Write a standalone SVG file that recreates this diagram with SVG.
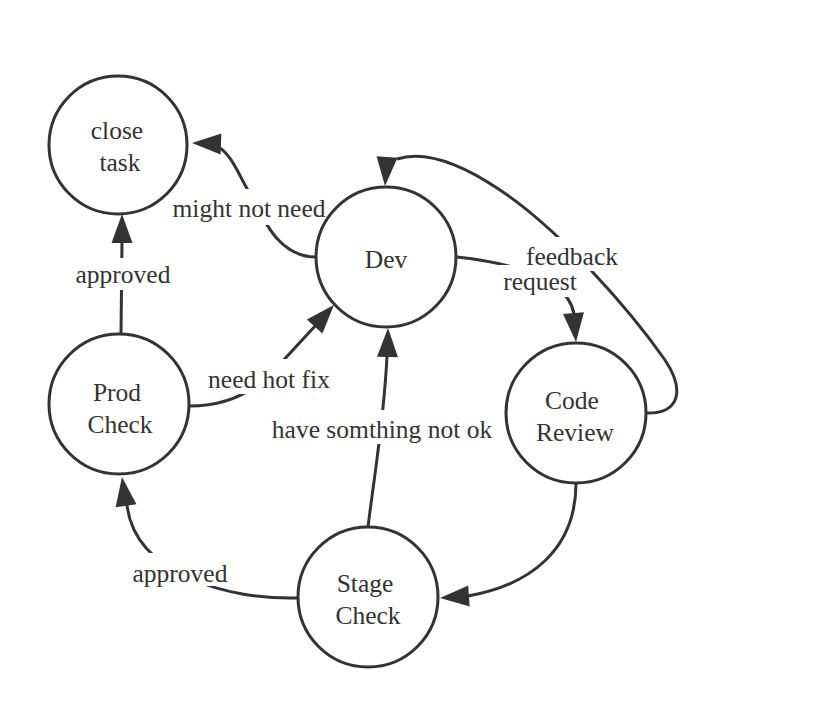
<svg xmlns="http://www.w3.org/2000/svg" xmlns:xlink="http://www.w3.org/1999/xlink" width="834" height="717" viewBox="0 0 834 717">
<style>
.node{fill:#fff;stroke:#333;stroke-width:3}
.edge{fill:none;stroke:#333;stroke-width:3}
.lbl{font-family:'Liberation Serif','DejaVu Serif',serif;font-size:25.5px;fill:#333;text-anchor:middle}
.bg{fill:#fff}
</style>
<defs>
<path id="ah" d="M0,0 L-29,-10.5 L-29,10.5 Z" fill="#333"/>
</defs>
<rect width="834" height="717" fill="#fff"/>
<g id="connectors">
<path class="edge" d="M316 257 C 276 257, 262 215, 245 185 C 236 168, 230 155, 220 148"/>
<use xlink:href="#ah" transform="translate(192,143) rotate(182)"/>
<path class="edge" d="M121 334 L 122 242"/>
<use xlink:href="#ah" transform="translate(122,214) rotate(-90)"/>
<path class="edge" d="M190 406 C 228 406, 258 390, 280 364 L 316 325"/>
<use xlink:href="#ah" transform="translate(334,305) rotate(-48)"/>
<path class="edge" d="M368 527 C 375 470, 384 420, 387 356"/>
<use xlink:href="#ah" transform="translate(388,328) rotate(-89)"/>
<path class="edge" d="M298 598 C 230 600, 135 575, 127 505"/>
<use xlink:href="#ah" transform="translate(122,477) rotate(-98)"/>
<path class="edge" d="M576 483 C 576 550, 530 585, 468 596"/>
<use xlink:href="#ah" transform="translate(440,598) rotate(176)"/>
<path class="edge" d="M457 257 C 520 264, 568 280, 574 314"/>
<use xlink:href="#ah" transform="translate(576,342) rotate(85)"/>
<path class="edge" d="M646 413 C 680 414, 685 390, 665 360 C 630 310, 560 230, 500 190 C 460 163, 425 150, 397 159"/>
<use xlink:href="#ah" transform="translate(385,186) rotate(94)"/>
</g>
<g id="labels">
<rect class="bg" x="172" y="189" width="152" height="36"/>
<text class="lbl" x="249" y="217">might not need</text>
<rect class="bg" x="72" y="258" width="102" height="32"/>
<text class="lbl" x="123" y="283">approved</text>
<rect class="bg" x="205" y="359" width="127" height="35"/>
<text class="lbl" x="269" y="388">need hot fix</text>
<rect class="bg" x="267" y="410" width="230" height="34"/>
<text class="lbl" x="382" y="438">have somthing not ok</text>
<rect class="bg" x="129" y="553" width="101" height="33"/>
<text class="lbl" x="180" y="582">approved</text>
<rect class="bg" x="522" y="237" width="98" height="34"/>
<text class="lbl" x="572" y="265">feedback</text>
<rect class="bg" x="499" y="265" width="82" height="32"/>
<text class="lbl" x="540" y="290">request</text>
</g>
<g id="n-close">
<circle class="node" cx="118" cy="145" r="69"/>
<text class="lbl" x="117" y="139">close</text>
<text class="lbl" x="120" y="171">task</text>
</g>
<g id="n-dev">
<circle class="node" cx="386" cy="257" r="70"/>
<text class="lbl" x="386" y="268">Dev</text>
</g>
<g id="n-code">
<circle class="node" cx="576" cy="413" r="70"/>
<text class="lbl" x="572" y="409">Code</text>
<text class="lbl" x="575" y="441">Review</text>
</g>
<g id="n-prod">
<circle class="node" cx="119" cy="404" r="70"/>
<text class="lbl" x="117" y="401">Prod</text>
<text class="lbl" x="120" y="433">Check</text>
</g>
<g id="n-stage">
<circle class="node" cx="368" cy="597" r="70"/>
<text class="lbl" x="365" y="592">Stage</text>
<text class="lbl" x="368" y="624">Check</text>
</g>
</svg>
